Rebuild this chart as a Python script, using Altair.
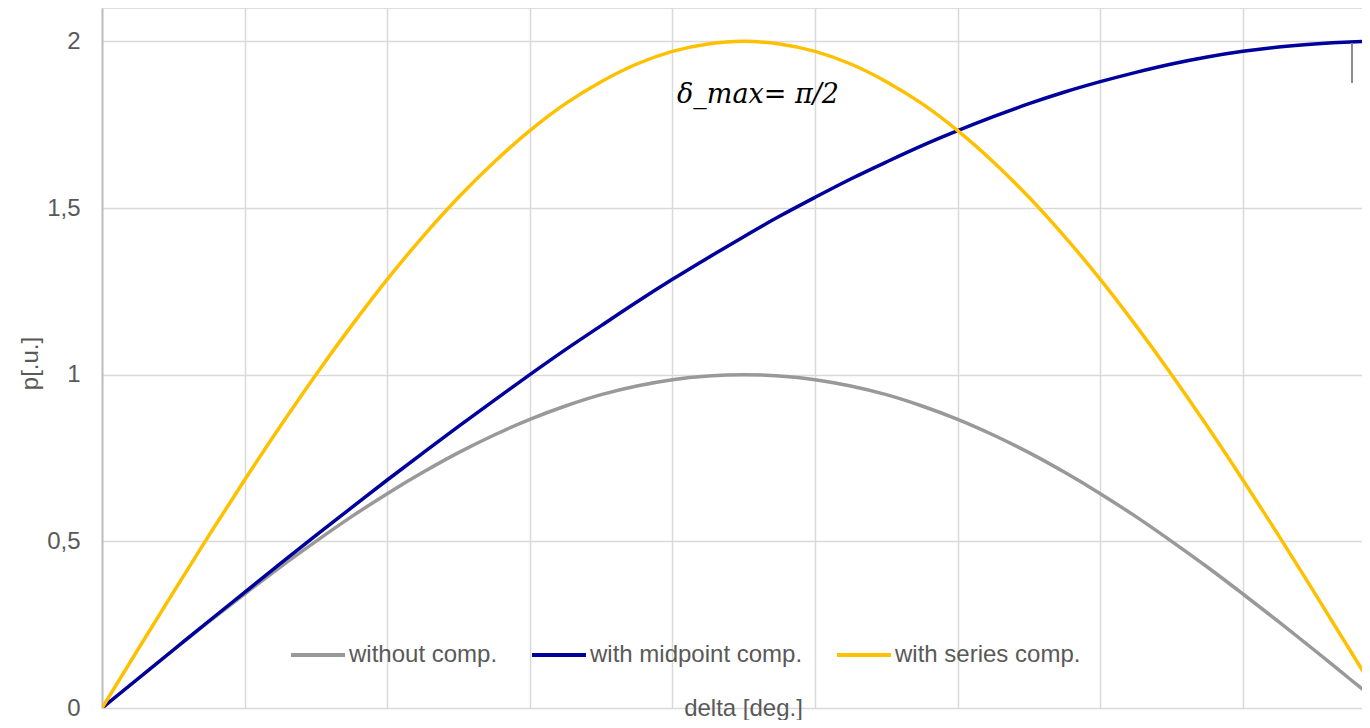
import altair as alt
import pandas as pd

# ---- data ----
delta_deg = [0, 5, 10, 15, 20, 25, 30, 35, 40, 45, 50, 55, 60, 65, 70, 75, 80, 85, 90,
             95, 100, 105, 110, 115, 120, 125, 130, 135, 140, 145, 150, 155, 160, 165,
             170, 175, 178]
p_without = [0.0, 0.087, 0.174, 0.259, 0.342, 0.423, 0.5, 0.574, 0.643, 0.707, 0.766,
             0.819, 0.866, 0.906, 0.94, 0.966, 0.985, 0.996, 1.0, 0.996, 0.985, 0.966,
             0.94, 0.906, 0.866, 0.819, 0.766, 0.707, 0.643, 0.574, 0.5, 0.423, 0.342,
             0.259, 0.174, 0.087, 0.035]
p_midpoint = [0.0, 0.087, 0.174, 0.261, 0.347, 0.433, 0.518, 0.601, 0.684, 0.765, 0.845,
              0.923, 1.0, 1.075, 1.147, 1.218, 1.286, 1.351, 1.414, 1.475, 1.532, 1.587,
              1.638, 1.687, 1.732, 1.774, 1.813, 1.848, 1.879, 1.907, 1.932, 1.953, 1.97,
              1.983, 1.992, 1.998, 2.0]
p_series = [0.0, 0.174, 0.347, 0.518, 0.684, 0.845, 1.0, 1.147, 1.286, 1.414, 1.532,
            1.638, 1.732, 1.813, 1.879, 1.932, 1.97, 1.992, 2.0, 1.992, 1.97, 1.932,
            1.879, 1.813, 1.732, 1.638, 1.532, 1.414, 1.286, 1.147, 1.0, 0.845, 0.684,
            0.518, 0.347, 0.174, 0.07]
series_names = ["without comp.", "with midpoint comp.", "with series comp."]
series_colors = ["#999999", "#00009C", "#FFC000"]
y_ticks = [0, 0.5, 1, 1.5, 2]
x_grid = [0, 20, 40, 60, 80, 100, 120, 140, 160]
annot_text = ["δ_max= π/2"]
annot_x = [92]
annot_y = [1.84]
marker_x = [175.3]
marker_y1 = [1.875]
marker_y2 = [1.995]

rows = []
for name, vals in zip(series_names, [p_without, p_midpoint, p_series]):
    for d, v in zip(delta_deg, vals):
        rows.append({"delta": d, "p": v, "series": name})
df = pd.DataFrame(rows)

FONT = "Liberation Sans"
TXT = "#595959"

x_scale = alt.Scale(domain=[0, 176.7], nice=False, zero=False)
y_scale = alt.Scale(domain=[0, 2.1], nice=False)

lines = alt.Chart(df).mark_line(strokeWidth=3.5, clip=True, interpolate="monotone").encode(
    x=alt.X("delta:Q", scale=x_scale,
            axis=alt.Axis(values=x_grid, grid=True, labels=False, ticks=False,
                          domain=False, title="delta [deg.]", titleFont=FONT,
                          titleFontSize=24, titleFontWeight="normal", titleColor=TXT,
                          titleBaseline="alphabetic", titleY=7, titleX=641,
                          titleAlign="center",
                          gridColor="#D9D9D9", gridWidth=1.5)),
    y=alt.Y("p:Q", scale=y_scale,
            axis=alt.Axis(values=y_ticks, grid=True, ticks=False, domain=True,
                          domainColor="#BFBFBF", domainWidth=2,
                          gridColor="#D9D9D9", gridWidth=1.5,
                          labelExpr="replace(toString(datum.value), '.', ',')",
                          labelFont=FONT, labelFontSize=24, labelColor=TXT,
                          labelPadding=22,
                          title="p[.u.]", titleFont=FONT, titleFontSize=24,
                          titleFontWeight="normal", titleColor=TXT,
                          titleX=-72, titleY=355, titleAngle=-90,
                          titleAlign="center", titleBaseline="middle")),
    color=alt.Color("series:N",
                    scale=alt.Scale(domain=series_names, range=series_colors),
                    legend=alt.Legend(orient="none", direction="horizontal",
                                      legendX=187, legendY=618, title=None,
                                      symbolType="stroke", symbolSize=2916,
                                      symbolStrokeWidth=4, labelOffset=2,
                                      labelLimit=0,
                                      columnPadding=26, labelFont=FONT,
                                      labelFontSize=24, labelColor=TXT)),
)

annot = alt.Chart(pd.DataFrame({"x": annot_x, "y": annot_y, "t": annot_text})).mark_text(
    font="DejaVu Serif", fontStyle="italic", fontSize=27, color="#000000",
    align="center", baseline="middle"
).encode(x=alt.X("x:Q", scale=x_scale), y=alt.Y("y:Q", scale=y_scale), text="t:N")

marker = alt.Chart(pd.DataFrame({"x": marker_x, "y": marker_y1, "y2": marker_y2})).mark_rule(
    color="#8C8C8C", strokeWidth=2
).encode(x=alt.X("x:Q", scale=x_scale), y=alt.Y("y:Q", scale=y_scale), y2="y2:Q")

chart = alt.layer(lines, annot, marker).properties(
    width=1260, height=700,
    autosize=alt.AutoSizeParams(type="none"),
    padding={"left": 94, "top": 0, "right": 0, "bottom": 12},
).configure_view(stroke=None).configure(background="white")

chart.save("out.html", embed_options={"renderer": "svg", "actions": False})
